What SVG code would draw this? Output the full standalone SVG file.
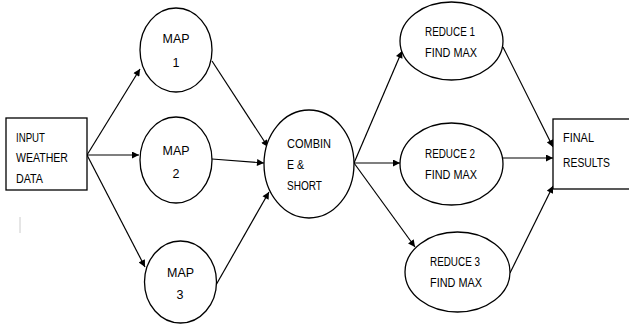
<svg xmlns="http://www.w3.org/2000/svg" width="629" height="325" viewBox="0 0 629 325">
<style>
.shape{fill:#fff;stroke:#000;stroke-width:1.3}
.t{font-family:"Liberation Sans",Arial,sans-serif;font-size:12.5px;fill:#000}
.c{text-anchor:middle}
.edge{stroke:#000;stroke-width:1.2;fill:none;marker-end:url(#ah)}
</style>
<defs>
<marker id="ah" viewBox="0 0 10 10" refX="10" refY="5" markerWidth="8" markerHeight="7" markerUnits="userSpaceOnUse" orient="auto">
<path d="M0,0 L10,5 L0,10 z" fill="#000"/>
</marker>
</defs>
<rect width="629" height="325" fill="#fff"/>
<line x1="20" y1="217" x2="20" y2="233" stroke="#ccc" stroke-width="1"/>
<g id="connectors">
<line class="edge" x1="87" y1="155" x2="140" y2="69"/>
<line class="edge" x1="87" y1="155" x2="139" y2="155"/>
<line class="edge" x1="87" y1="155" x2="145" y2="267"/>
<line class="edge" x1="212" y1="61" x2="268" y2="147"/>
<line class="edge" x1="212" y1="159" x2="264" y2="163"/>
<line class="edge" x1="216" y1="285" x2="269" y2="192"/>
<line class="edge" x1="354" y1="163" x2="402" y2="51"/>
<line class="edge" x1="354" y1="163" x2="400" y2="163"/>
<line class="edge" x1="354" y1="163" x2="415" y2="247"/>
<line class="edge" x1="503" y1="47" x2="553" y2="147"/>
<line class="edge" x1="503" y1="158" x2="553" y2="158"/>
<line class="edge" x1="510" y1="273" x2="553" y2="186"/>
</g>
<g id="input">
<rect class="shape" x="6" y="118" width="81" height="72"/>
<text class="t" x="16" y="142" textLength="29" lengthAdjust="spacingAndGlyphs">INPUT</text>
<text class="t" x="16" y="162" textLength="52" lengthAdjust="spacingAndGlyphs">WEATHER</text>
<text class="t" x="16" y="183" textLength="27" lengthAdjust="spacingAndGlyphs">DATA</text>
</g>
<g id="map1">
<ellipse class="shape" cx="176" cy="50" rx="36" ry="42"/>
<text class="t" x="162.5" y="43" textLength="27" lengthAdjust="spacingAndGlyphs">MAP</text>
<text class="t c" x="176" y="67">1</text>
</g>
<g id="map2">
<ellipse class="shape" cx="176" cy="160" rx="36" ry="43"/>
<text class="t" x="162.5" y="155" textLength="27" lengthAdjust="spacingAndGlyphs">MAP</text>
<text class="t c" x="176" y="178">2</text>
</g>
<g id="map3">
<ellipse class="shape" cx="180.5" cy="282" rx="36" ry="41"/>
<text class="t" x="167" y="277" textLength="27" lengthAdjust="spacingAndGlyphs">MAP</text>
<text class="t c" x="180" y="299">3</text>
</g>
<g id="combine">
<ellipse class="shape" cx="309" cy="164" rx="45" ry="54"/>
<text class="t" x="287" y="148" textLength="44" lengthAdjust="spacingAndGlyphs">COMBIN</text>
<text class="t" x="287" y="169" textLength="17" lengthAdjust="spacingAndGlyphs">E &amp;</text>
<text class="t" x="287" y="190" textLength="35" lengthAdjust="spacingAndGlyphs">SHORT</text>
</g>
<g id="reduce1">
<ellipse class="shape" cx="451.5" cy="41" rx="51.5" ry="39"/>
<text class="t" x="425" y="36" textLength="50" lengthAdjust="spacingAndGlyphs">REDUCE 1</text>
<text class="t" x="425" y="57" textLength="52" lengthAdjust="spacingAndGlyphs">FIND MAX</text>
</g>
<g id="reduce2">
<ellipse class="shape" cx="451.5" cy="164" rx="51.5" ry="41"/>
<text class="t" x="425" y="158" textLength="50" lengthAdjust="spacingAndGlyphs">REDUCE 2</text>
<text class="t" x="425" y="179" textLength="52" lengthAdjust="spacingAndGlyphs">FIND MAX</text>
</g>
<g id="reduce3">
<ellipse class="shape" cx="457.5" cy="272" rx="52.5" ry="40"/>
<text class="t" x="430" y="266" textLength="50" lengthAdjust="spacingAndGlyphs">REDUCE 3</text>
<text class="t" x="430" y="287" textLength="52" lengthAdjust="spacingAndGlyphs">FIND MAX</text>
</g>
<g id="final">
<rect class="shape" x="553" y="119" width="90" height="70"/>
<text class="t" x="563" y="142" textLength="31" lengthAdjust="spacingAndGlyphs">FINAL</text>
<text class="t" x="563" y="167" textLength="47" lengthAdjust="spacingAndGlyphs">RESULTS</text>
</g>
</svg>
